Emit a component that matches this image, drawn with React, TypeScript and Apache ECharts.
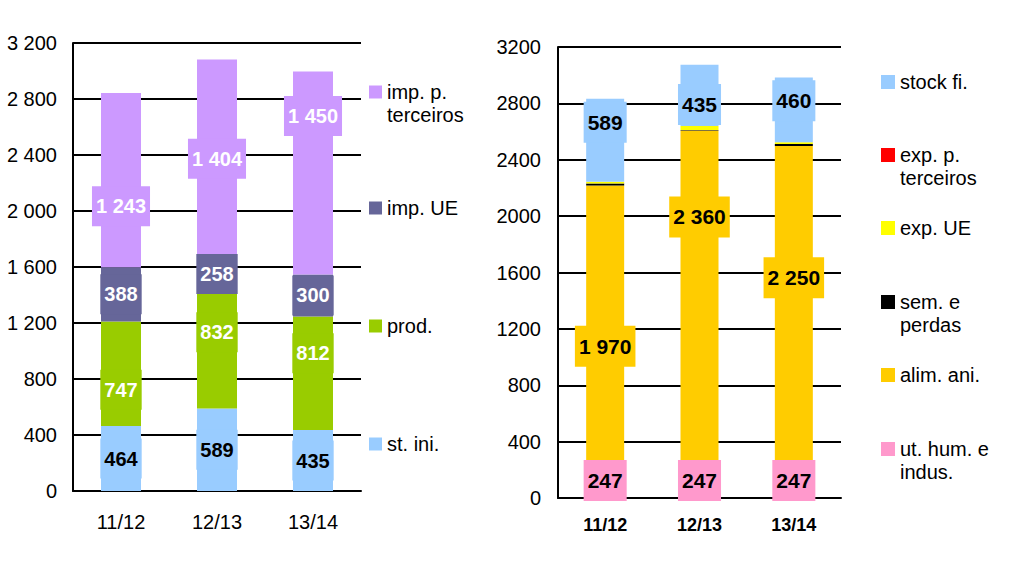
import React, { useEffect, useRef } from "react";
import * as echarts from "echarts";

const categories = ["11/12", "12/13", "13/14"];

// Left chart (supply)
const stIni = [464, 589, 435];
const prod = [747, 832, 812];
const impUE = [388, 258, 300];
const impTerc = [1243, 1404, 1450];

// Right chart (use)
const utHum = [247, 247, 247];
const alimAni = [1970, 2360, 2250];
const semPerdas = [15, 4, 15];
const expUE = [12, 28, 12];
const expTerc = [0, 0, 0];
const stockFi = [589, 435, 460];

// label vertical offsets (px)
const offImpTerc = [26, 1, -57];
const offProd = [16, -18, -20];
const offStock = [-18, 9, -9];
const offAlim = [22, -80, -27];

const FONT = "Liberation Sans, Arial, sans-serif";

const fmtSpace = (v: number) =>
  v >= 1000 ? Math.floor(v / 1000) + " " + String(v % 1000).padStart(3, "0") : String(v);

// multi-line legend texts get a leading blank line so that the first line sits beside the icon
const legendNames: Record<string, string> = {
  "imp. p. terceiros": " \nimp. p.\nterceiros",
  "imp. UE": "imp. UE",
  "prod.": "prod.",
  "st. ini.": "st. ini.",
  "stock fi.": "stock fi.",
  "exp. p. terceiros": " \nexp. p.\nterceiros",
  "exp. UE": "exp. UE",
  "sem. e perdas": " \nsem. e\nperdas",
  "alim. ani.": "alim. ani.",
  "ut. hum. e indus.": " \nut. hum. e\nindus.",
};

function makeBar(
  name: string,
  data: number[],
  color: string,
  idx: number,
  width: number,
  label: any,
  offsets?: number[]
) {
  return {
    name,
    type: "bar",
    stack: idx === 0 ? "L" : "R",
    xAxisIndex: idx,
    yAxisIndex: idx,
    barWidth: width,
    itemStyle: { color },
    label,
    data: data.map((v, i) =>
      offsets ? { value: v, label: { offset: [0, offsets[i]] } } : { value: v }
    ),
  };
}

// iconCenter: desired y of the icon centre
function legendItem(name: string, left: number, iconCenter: number, size: number) {
  const multi = legendNames[name].includes("\n");
  const top = multi ? iconCenter - 34.5 : iconCenter - 11.5;
  return {
    data: [name],
    left,
    top,
    orient: "vertical",
    padding: 0,
    icon: "rect",
    itemWidth: size,
    itemHeight: size,
    selectedMode: false,
    formatter: (n: string) => legendNames[n],
    textStyle: {
      fontFamily: FONT,
      fontSize: 20,
      color: "#000",
      lineHeight: 23,
    },
  };
}

export default function App() {
  const ref = useRef<HTMLDivElement>(null);
  useEffect(() => {
    if (!ref.current) return;
    const chart = echarts.init(ref.current, null, { renderer: "svg" });

    const lbl = (color: string, bg: string, size: number) => ({
      show: true,
      position: "inside",
      color,
      fontFamily: FONT,
      fontWeight: "bold",
      fontSize: size,
      backgroundColor: bg,
      padding: [10, 4],
      formatter: (p: any) => fmtSpace(p.value),
    });

    const yAxisBase = {
      type: "value",
      min: 0,
      max: 3200,
      interval: 400,
      axisLine: { show: true, lineStyle: { color: "#000", width: 2 } },
      axisTick: { show: false },
      splitLine: { lineStyle: { color: "#000", width: 2 } },
    };

    const option: any = {
      animation: false,
      backgroundColor: "#fff",
      grid: [
        { left: 73, top: 43, width: 288, height: 448 },
        { left: 558, top: 47, width: 283, height: 451 },
      ],
      xAxis: [
        {
          type: "category",
          gridIndex: 0,
          data: categories,
          axisLine: { lineStyle: { color: "#000", width: 2 } },
          axisTick: { show: false },
          axisLabel: { color: "#000", fontFamily: FONT, fontSize: 20, margin: 21 },
        },
        {
          type: "category",
          gridIndex: 1,
          data: categories,
          axisLine: { lineStyle: { color: "#000", width: 2 } },
          axisTick: { show: false },
          axisLabel: {
            color: "#000",
            fontFamily: FONT,
            fontSize: 18,
            fontWeight: "bold",
            margin: 18,
          },
        },
      ],
      yAxis: [
        {
          ...yAxisBase,
          gridIndex: 0,
          axisLabel: {
            color: "#000",
            fontFamily: FONT,
            fontSize: 20,
            margin: 16,
            formatter: (v: number) => fmtSpace(v),
          },
        },
        {
          ...yAxisBase,
          gridIndex: 1,
          axisLabel: {
            color: "#000",
            fontFamily: FONT,
            fontSize: 20,
            margin: 17,
            formatter: (v: number) => String(v),
          },
        },
      ],
      legend: [
        legendItem("imp. p. terceiros", 369, 92, 13),
        legendItem("imp. UE", 369, 208, 13),
        legendItem("prod.", 369, 326, 13),
        legendItem("st. ini.", 369, 444, 13),
        legendItem("stock fi.", 881, 82, 14),
        legendItem("exp. p. terceiros", 881, 155, 14),
        legendItem("exp. UE", 881, 228, 14),
        legendItem("sem. e perdas", 881, 302, 14),
        legendItem("alim. ani.", 881, 375, 14),
        legendItem("ut. hum. e indus.", 881, 449, 14),
      ],
      series: [
        makeBar("st. ini.", stIni, "#99CCFF", 0, 40, lbl("#000", "#99CCFF", 20)),
        makeBar("prod.", prod, "#99CC00", 0, 40, lbl("#fff", "#99CC00", 20), offProd),
        makeBar("imp. UE", impUE, "#666699", 0, 40, lbl("#fff", "#666699", 20)),
        makeBar("imp. p. terceiros", impTerc, "#CC99FF", 0, 40, lbl("#fff", "#CC99FF", 20), offImpTerc),
        makeBar("ut. hum. e indus.", utHum, "#FF99CC", 1, 38, lbl("#000", "#FF99CC", 21)),
        makeBar("alim. ani.", alimAni, "#FFCC00", 1, 38, lbl("#000", "#FFCC00", 21), offAlim),
        makeBar("sem. e perdas", semPerdas, "#000000", 1, 38, { show: false }),
        makeBar("exp. UE", expUE, "#FFFF00", 1, 38, { show: false }),
        makeBar("exp. p. terceiros", expTerc, "#FF0000", 1, 38, { show: false }),
        makeBar("stock fi.", stockFi, "#99CCFF", 1, 38, lbl("#000", "#99CCFF", 21), offStock),
      ],
    };
    chart.setOption(option);
    return () => chart.dispose();
  }, []);
  return (
    <div
      ref={ref}
      style={{ position: "fixed", left: 0, top: 0, width: 1024, height: 562, background: "#fff" }}
    />
  );
}
